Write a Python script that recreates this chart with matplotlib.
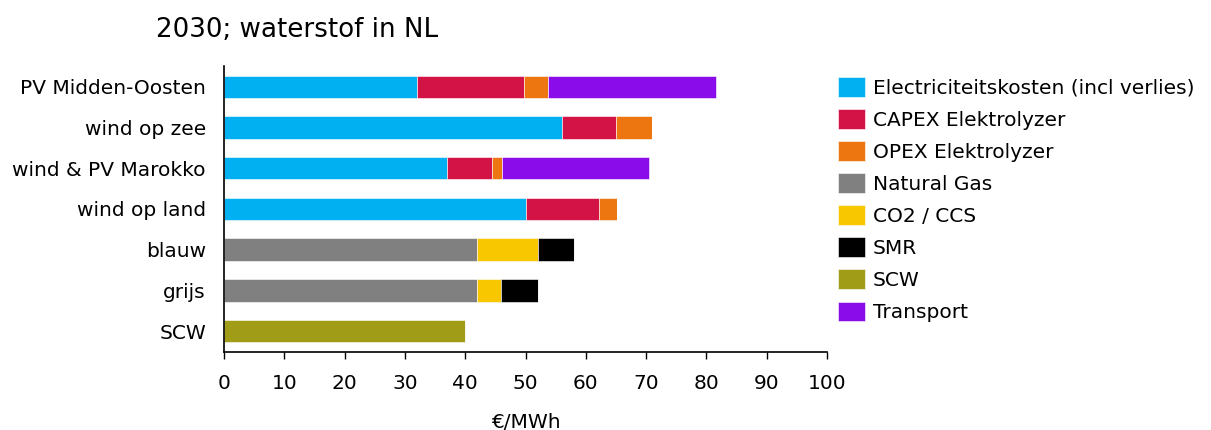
import numpy as np
import matplotlib.pyplot as plt
from matplotlib.patches import Patch

# categorieen (van boven naar onder)
categories = ["PV Midden-Oosten", "wind op zee", "wind & PV Marokko",
              "wind op land", "blauw", "grijs", "SCW"]

# kostencomponenten in €/MWh
elektriciteit = [32, 56, 37, 50, 0, 0, 0]
capex = [17.8, 9, 7.5, 12.2, 0, 0, 0]
opex = [4, 6, 1.6, 3, 0, 0, 0]
natural_gas = [0, 0, 0, 0, 42, 42, 0]
co2_ccs = [0, 0, 0, 0, 10, 4, 0]
smr = [0, 0, 0, 0, 6, 6, 0]
scw = [0, 0, 0, 0, 0, 0, 40]
transport = [27.8, 0, 24.3, 0, 0, 0, 0]

series = [
    ("Electriciteitskosten (incl verlies)", elektriciteit, "#00B0F0"),
    ("CAPEX Elektrolyzer", capex, "#D31345"),
    ("OPEX Elektrolyzer", opex, "#EE7611"),
    ("Natural Gas", natural_gas, "#808080"),
    ("CO2 / CCS", co2_ccs, "#F9C700"),
    ("SMR", smr, "#000000"),
    ("SCW", scw, "#A09C18"),
    ("Transport", transport, "#8B0CEB"),
]

plt.rcParams['font.family'] = ['DejaVu Sans']

fig = plt.figure(figsize=(12.11, 4.30), dpi=100)
ax = fig.add_axes([0.185, 0.181, 0.498, 0.666])

y = np.arange(len(categories))
left = np.zeros(len(categories))
for name, vals, col in series:
    vals = np.array(vals, dtype=float)
    ax.barh(y, vals, left=left, height=0.55, color=col, label=name,
            edgecolor="white", linewidth=0.4)
    left += vals

ax.set_ylim(6.52, -0.52)
ax.set_yticks(y)
ax.set_yticklabels(categories, fontsize=14.5)
ax.set_xlim(0, 100)
ax.set_xticks(np.arange(0, 101, 10))
ax.tick_params(axis='x', labelsize=14.5, length=5, width=1, pad=11)
ax.tick_params(axis='y', length=0, pad=13)
ax.spines['top'].set_visible(False)
ax.spines['right'].set_visible(False)
ax.spines['left'].set_linewidth(1.2)
ax.spines['bottom'].set_linewidth(1.2)
ax.set_xlabel("€/MWh", fontsize=14.5, labelpad=14)

fig.text(0.129, 0.915, "2030; waterstof in NL", fontsize=18.8)

handles = [Patch(facecolor=c, edgecolor="white", linewidth=0.4) for _, _, c in series]
labels = [n for n, _, _ in series]
fig.legend(handles, labels, loc="upper left", bbox_to_anchor=(0.685, 0.840),
           frameon=False, fontsize=14.5, handlelength=1.35, handleheight=1.15,
           labelspacing=0.56, handletextpad=0.4, borderaxespad=0)

fig.savefig("out.png", dpi=100)
